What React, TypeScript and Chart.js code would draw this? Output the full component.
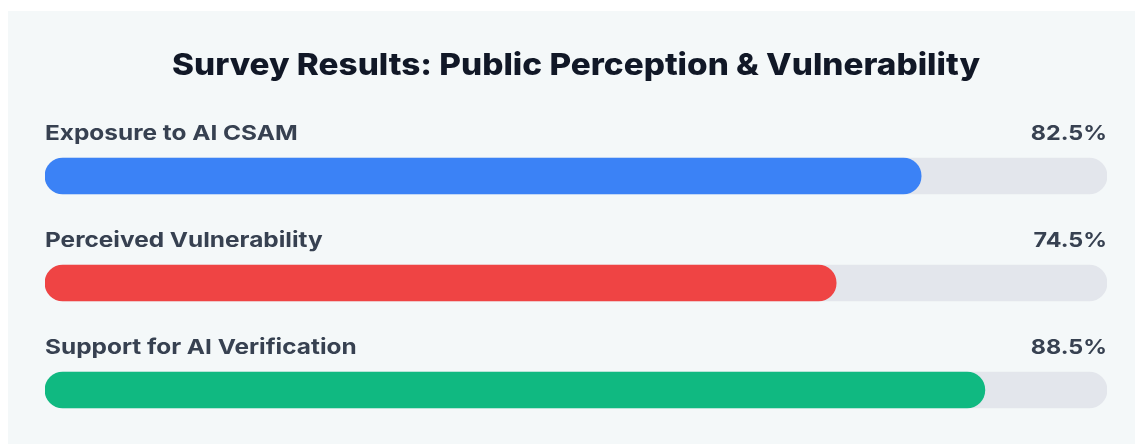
import React, { useEffect, useRef } from "react";
import { Chart, registerables } from "chart.js";

Chart.register(...registerables);

const chartTitle = "Survey Results: Public Perception & Vulnerability";
const categories = ["Exposure to AI CSAM", "Perceived Vulnerability", "Support for AI Verification"];
const values = [82.5, 74.5, 88.5];
const trackValues = [100, 100, 100];
const barColors = ["#3b82f6", "#ef4444", "#10b981"];
const valueLabels = ["82.5%", "74.5%", "88.5%"];

const FONT = "Inter, 'Open Sans', 'DejaVu Sans', sans-serif";

function drawScaled(ctx: CanvasRenderingContext2D, text: string, x: number, y: number, align: CanvasTextAlign, sx: number) {
  ctx.save();
  ctx.translate(x, y);
  ctx.scale(sx, 1);
  ctx.textAlign = align;
  ctx.fillText(text, 0, 0);
  ctx.restore();
}

export default function App() {
  const ref = useRef<HTMLCanvasElement | null>(null);

  useEffect(() => {
    if (!ref.current) return;
    const textPlugin = {
      id: "textPlugin",
      afterDatasetsDraw(chart: any) {
        const ctx = chart.ctx as CanvasRenderingContext2D;
        const area = chart.chartArea;
        ctx.save();
        ctx.textBaseline = "alphabetic";
        ctx.fillStyle = "#111827";
        ctx.font = `800 30px ${FONT}`;
        drawScaled(ctx, chartTitle, 568, 64, "center", 1.11);
        const meta = chart.getDatasetMeta(0);
        meta.data.forEach((bar: any, i: number) => {
          const y = bar.y - 18 - 18;
          ctx.fillStyle = "#374151";
          ctx.font = `700 20.5px ${FONT}`;
          drawScaled(ctx, categories[i], area.left, y, "left", 1.19);
          drawScaled(ctx, valueLabels[i], area.right, y, "right", 1.14);
        });
        ctx.restore();
      },
    };
    const chart = new Chart(ref.current, {
      type: "bar",
      data: {
        labels: categories,
        datasets: [
          {
            data: values,
            backgroundColor: barColors,
            barThickness: 36,
            borderRadius: 18,
            borderSkipped: false,
            grouped: false,
          },
          {
            data: trackValues,
            backgroundColor: "#e3e6ec",
            barThickness: 36,
            borderRadius: 18,
            borderSkipped: false,
            grouped: false,
          },
        ],
      },
      options: {
        indexAxis: "y",
        responsive: false,
        maintainAspectRatio: false,
        animation: false,
        layout: { padding: { left: 37, right: 28, top: 111.5, bottom: 0.5 } },
        scales: {
          x: { display: false, min: 0, max: 100 },
          y: { display: false },
        },
        plugins: {
          legend: { display: false },
          title: { display: false },
          tooltip: { enabled: false },
        },
      },
      plugins: [textPlugin],
    });
    return () => chart.destroy();
  }, []);

  return (
    <div
      style={{
        position: "absolute",
        left: 8,
        top: 11,
        width: 1127,
        height: 433,
        background: "#f4f8f9",
      }}
    >
      <canvas ref={ref} width={1127} height={433} style={{ display: "block" }} />
    </div>
  );
}
